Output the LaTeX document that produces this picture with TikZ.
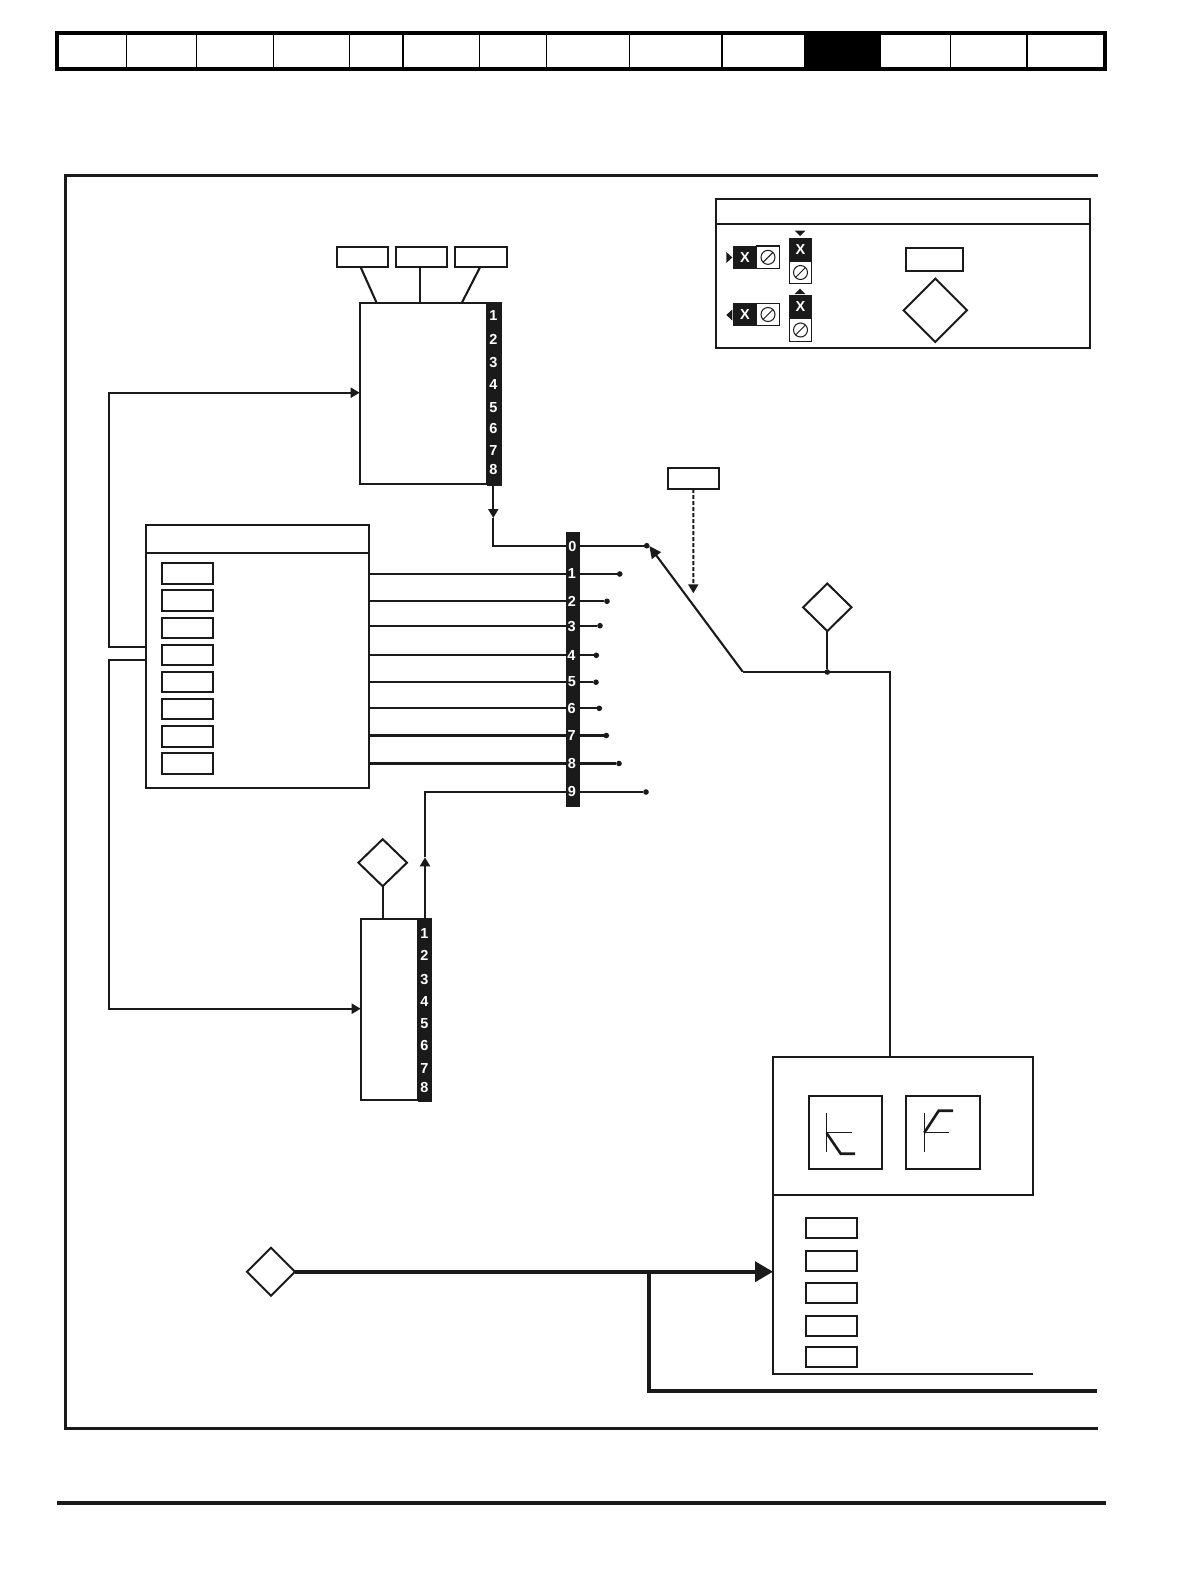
\documentclass[tikz,border=0pt]{standalone}
\usepackage{fontspec}
\setmainfont{Liberation Sans}
\usetikzlibrary{arrows.meta,shapes.geometric}
\definecolor{ink}{HTML}{1A1A1A}
\tikzset{
  x=1pt,y=-1pt,
  ink line/.style={draw=ink,line width=2.1pt},
  box/.style={draw=ink,line width=2.1pt,fill=white,inner sep=0pt,outer sep=0pt},
  smallbox/.style={box,line width=2.2pt},
  boldbox/.style={box,line width=2.3pt},
  stripbox/.style={fill=ink,inner sep=0pt,outer sep=0pt},
  keycell/.style={draw=ink,line width=1.2pt,fill=white,inner sep=0pt,outer sep=0pt},
  dia/.style={shape=diamond,draw=ink,line width=2pt,fill=white,inner sep=0pt,outer sep=0pt},
  digit/.style={text=white,font=\fontsize{14.5}{14.5}\selectfont\bfseries,inner sep=0pt},
  enddot/.style={circle,fill=ink,minimum size=5.6pt,inner sep=0pt,outer sep=0pt},
  lockring/.style={circle,draw=ink,line width=1pt,minimum size=14pt,inner sep=0pt,outer sep=0pt},
  midhead/.style={-{Triangle[length=9pt,width=10pt]}},
  heavy/.style={draw=ink,line width=3.7pt},
  thinrule/.style={draw=black,line width=1.1pt},
  iconthin/.style={draw=ink,line width=1.4pt},
  iconthick/.style={draw=ink,line width=2.6pt},
}
\newcommand{\pbox}[6]{\node[#1,minimum width={(#5-#3)*1pt},minimum height={(#6-#4)*1pt}] (#2) at ({(#3+#5)/2},{(#4+#6)/2}) {};}
\newcommand{\pdia}[5]{\node[dia,minimum width={2*#4*1pt},minimum height={2*#5*1pt}] (#1) at (#2,#3) {};}
\begin{document}
\begin{tikzpicture}
\useasboundingbox (0,0) rectangle (1190,1582);
\fill[white] (0,0) rectangle (1190,1582);

% header bar
\node[draw=black,line width=4pt,fill=white,inner sep=0pt,outer sep=0pt,minimum width=1048pt,minimum height=36pt] (bar) at (581,51) {};
\pbox{fill=black,inner sep=0pt,outer sep=0pt}{barcell}{804.4}{33}{880.6}{69}
\foreach \x in {126.3,196.3,273.7,349.4,403,479.6,546.4,629.2,722,950.2,1027}
  {\draw[thinrule] (\x,35) -- (\x,67);}

% page frame and foot rule
\draw[draw=ink,line width=3pt] (1098,175.5) -- (65,175.5) -- (65,1428.5) -- (1098,1428.5);
\draw[draw=ink,line width=3.2pt] (56.5,1503) -- (1106,1503);

% key
\pbox{box}{key}{715.7}{199.3}{1090}{347.7}
\draw[ink line] (key.west |- 0,223.7) -- (key.east |- 0,223.7);
\pbox{keycell}{ka}{756.7}{246}{779.3}{268.7}
\pbox{stripbox}{kab}{733}{246}{756.7}{268.7}
\node[digit] (kax) at (kab.center) {X};
\node[lockring] (kar) at (ka.center) {};
\draw[draw=ink,line width=1pt] (kar.south west) -- (kar.north east);
\fill[ink] (726.3,252) -- (732.3,257.5) -- (726.3,263) -- cycle;
\pbox{keycell}{kb}{756.7}{303.3}{779.3}{325.7}
\pbox{stripbox}{kbb}{733}{303.3}{756.7}{325.7}
\node[digit] (kbx) at (kbb.center) {X};
\node[lockring] (kbr) at (kb.center) {};
\draw[draw=ink,line width=1pt] (kbr.south west) -- (kbr.north east);
\fill[ink] (732.3,309.5) -- (726.3,315) -- (732.3,320.5) -- cycle;
\pbox{keycell}{kc}{789.3}{261.7}{811.7}{283.3}
\pbox{stripbox}{kcb}{789.3}{238.3}{811.7}{261.7}
\node[digit] (kcx) at (kcb.center) {X};
\node[lockring] (kcr) at (kc.center) {};
\draw[draw=ink,line width=1pt] (kcr.south west) -- (kcr.north east);
\fill[ink] (794.7,230.7) -- (805.3,230.7) -- (800,236) -- cycle;
\pbox{keycell}{kd}{789.3}{318.7}{811.7}{341.3}
\pbox{stripbox}{kdb}{789.3}{295.3}{811.7}{318.7}
\node[digit] (kdx) at (kdb.center) {X};
\node[lockring] (kdr) at (kd.center) {};
\draw[draw=ink,line width=1pt] (kdr.south west) -- (kdr.north east);
\fill[ink] (794.7,294) -- (805.3,294) -- (800,288.7) -- cycle;
\pbox{boldbox}{keyrect}{905.7}{247.7}{962.7}{271}
\pdia{keydia}{935.3}{310.3}{31.7}{31.7}

% upper block
\pbox{smallbox}{ua}{336.7}{246.7}{387.7}{267.3}
\pbox{smallbox}{ub}{396}{246.7}{447}{267.3}
\pbox{smallbox}{uc}{455.3}{246.7}{506.7}{267.3}
\pbox{box}{ublk}{359.7}{303}{486.7}{484}
\pbox{stripbox}{ustrip}{486.7}{302}{502}{485.7}
\coordinate (uat) at (376.7,303);
\coordinate (ubt) at (420,303);
\coordinate (ubs) at (420,267.3);
\coordinate (uct) at (461.7,303);
\draw[ink line] (360.7,267.3) -- (uat);
\draw[ink line] (ubs) -- (ubt);
\draw[ink line] (480,267.3) -- (uct);
\foreach \n/\y in {1/316,2/339.3,3/362.3,4/384.3,5/407.3,6/428.3,7/451,8/470}
  {\node[digit] (u\n) at (493.5,\y) {\n};}

% left block
\pbox{box}{lblk}{145.7}{525}{368.7}{787.7}
\draw[ink line] (lblk.west |- 0,553) -- (lblk.east |- 0,553);
\foreach \n/\a/\b in {1/563.3/583.7,2/590.3/611,3/617.7/638,4/644.7/665,5/671.7/692.3,6/699/719.3,7/726.3/746.7,8/753.3/773.7}
  {\pbox{smallbox}{lb\n}{161.7}{\a}{212.7}{\b}}

% left feedback lines
\coordinate (fa) at (109,647.3);
\coordinate (fb) at (109,660.3);
\coordinate (ublkin) at (ublk.west |- 0,392.7);
\draw[ink line,-{Triangle[length=9pt,width=10pt]}] (lblk.west |- fa) -- (fa) -- (fa |- ublkin) -- (ublkin);

% selector strip
\pbox{stripbox}{mux}{566}{532}{580}{806.7}
\foreach \n/\y/\xe in {1/574/619.7,2/601.3/607,3/625.7/600,4/655.3/596.3,5/682.2/596,6/708.3/599.3,7/735.5/606.3,8/763.5/619}{
  \node[enddot] (d\n) at (\xe,\y) {};
  \draw[ink line] (lblk.east |- d\n) -- (mux.west |- d\n);
  \draw[ink line] (mux.east |- d\n) -- (d\n);
}
\node[enddot] (d0) at (646.7,545.7) {};
\node[enddot] (d9) at (646,792) {};
\draw[ink line] (mux.east |- d0) -- (d0);
\draw[ink line] (mux.east |- d9) -- (d9);
\foreach \n/\y/\x in {0/546.3/572.3,1/573.7/572,2/601.3/572,3/626.3/571.7,4/655.7/571.3,5/682/572,6/708.3/571.7,7/735.7/571.7,8/763.3/572,9/791.3/572}
  {\node[digit] (m\n) at (\x,\y) {\n};}

% upper block to selector
\coordinate (uout) at (493.3,485.7);
\coordinate (uhead) at (493.3,518);
\coordinate (uin) at (mux.west |- d0);
\draw[ink line,midhead] (uout) -- (uhead);
\draw[ink line] (uhead) -- (uout |- uin) -- (uin);

% lower block
\pbox{box}{dblk}{360.7}{919.3}{418}{1100}
\pbox{stripbox}{dstrip}{418}{918.3}{431.7}{1102}
\foreach \n/\y in {1/933.3,2/955.3,3/979.7,4/1001,5/1023.3,6/1045,7/1068,8/1087.7}
  {\node[digit] (e\n) at (424.3,\y) {\n};}
\pdia{ddia}{382.7}{862.7}{24.3}{23.5}
\draw[ink line] (ddia.south) -- (ddia.south |- dblk.north);
\coordinate (dhead) at (425,857.3);
\coordinate (dcorner) at (425,792);
\draw[ink line,midhead] (dcorner |- dstrip.north) -- (dhead);
\draw[ink line] (dhead) -- (dcorner) -- (mux.west |- dcorner);
\coordinate (dblkin) at (dblk.west |- 0,1008.7);
\draw[ink line,-{Triangle[length=9pt,width=10pt]}] (lblk.west |- fb) -- (fb) -- (fb |- dblkin) -- (dblkin);

% selector switch
\coordinate (armtip) at (649.3,546);
\coordinate (armknee) at (742.7,671.7);
\coordinate (armend) at (890,671.7);
\draw[ink line,-{Triangle[length=12pt,width=11pt]}] (armknee) -- (armtip);
\pbox{smallbox}{selr}{667.7}{468.3}{719}{489}
\coordinate (seld) at (693.3,593.3);
\draw[draw=ink,line width=2pt,dash pattern=on 4pt off 2pt,-{Triangle[length=9pt,width=10pt]}] (selr.south) -- (seld);
\pdia{swdia}{827.3}{607.3}{24.2}{23.8}
\node[enddot] (swdot) at (827.3,672) {};
\draw[ink line] (swdia.south) -- (swdot);

% right block
\pbox{box}{rtop}{773.3}{1056.7}{1033.3}{1195}
\draw[ink line] (armknee) -- (armend) -- (armend |- rtop.north);
\draw[ink line] (rtop.south west) -- (773.3,1373.7) -- (1033.3,1373.7);
\pbox{box}{ica}{808.7}{1095.7}{882}{1169}
\pbox{box}{icb}{906}{1095.7}{979.7}{1169}
\draw[iconthin] (826.7,1113.3) -- (826.7,1151.7);
\draw[iconthin] (826.7,1132.7) -- (851.7,1132.7);
\draw[iconthick] (826.7,1133.3) -- (840.7,1153.7) -- (855,1153.7);
\draw[iconthin] (924.3,1113.3) -- (924.3,1151.7);
\draw[iconthin] (924.3,1132.7) -- (949,1132.7);
\draw[iconthick] (924.3,1132.7) -- (938.7,1110.7) -- (953,1110.7);
\foreach \n/\a/\b in {1/1217.7/1238.3,2/1250.7/1271.3,3/1282.7/1303.3,4/1315.7/1336.3,5/1346.7/1367.3}
  {\pbox{smallbox}{rb\n}{805.7}{\a}{857}{\b}}

% main heavy feed
\pdia{srcdia}{271}{1271.7}{24}{24}
\coordinate (rin) at (773,1271.7);
\coordinate (split) at (649,1271.7);
\coordinate (bend) at (649,1390.7);
\coordinate (runout) at (1097,1390.7);
\draw[heavy,-{Triangle[length=18pt,width=20pt]}] (srcdia.east) -- (rin);
\draw[heavy] (split) -- (bend) -- (runout);
\end{tikzpicture}
\end{document}
